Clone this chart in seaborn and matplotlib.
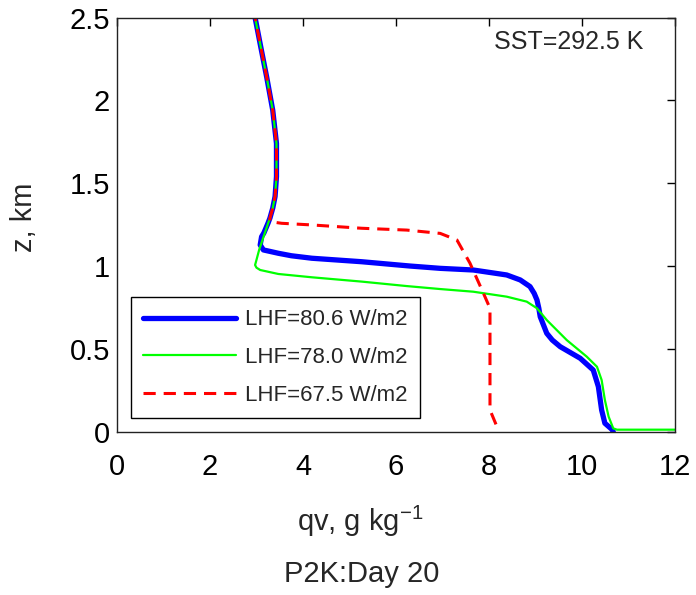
import numpy as np
import pandas as pd
import matplotlib
matplotlib.use("Agg")
import matplotlib.pyplot as plt
import seaborn as sns

# Shared upper-profile values (z in km, qv in g/kg)
z_upper = [2.55, 2.5, 2.34, 2.14, 1.94, 1.74, 1.54, 1.42, 1.35, 1.29]
q_upper = [2.93, 2.97, 3.08, 3.22, 3.35, 3.43, 3.43, 3.40, 3.35, 3.29]

z_blue = z_upper + [1.26, 1.2, 1.177, 1.127, 1.097, 1.077, 1.062, 1.047, 1.026, 1.0,
                    0.986, 0.976, 0.946, 0.916, 0.876, 0.835, 0.795, 0.745, 0.694,
                    0.594, 0.553, 0.513, 0.443, 0.372, 0.272, 0.131, 0.051, 0.014, 0.0]
q_blue = q_upper + [3.25, 3.16, 3.11, 3.08, 3.15, 3.47, 3.75, 4.19, 5.26, 6.3,
                    6.95, 7.66, 8.38, 8.67, 8.88, 8.97, 9.03, 9.07, 9.10,
                    9.24, 9.36, 9.53, 9.96, 10.24, 10.35, 10.42, 10.49, 10.64, 10.67]

z_green = z_upper + [1.258, 1.2, 1.1, 1.037, 1.006, 0.99, 0.976, 0.952, 0.932, 0.906,
                     0.879, 0.861, 0.845, 0.815, 0.785, 0.745, 0.674, 0.553, 0.453,
                     0.392, 0.312, 0.191, 0.091, 0.02, 0.012, 0.012]
q_green = q_upper + [3.25, 3.18, 3.06, 3.00, 2.97, 3.0, 3.08, 3.47, 4.19, 5.26,
                     6.23, 6.95, 7.66, 8.38, 8.81, 9.03, 9.24, 9.67, 10.10,
                     10.32, 10.42, 10.49, 10.57, 10.67, 10.75, 12.5]

z_red = z_upper + [1.268, 1.258, 1.248, 1.228, 1.217, 1.197, 1.157, 1.017, 0.835,
                   0.745, 0.734, 0.131, 0.03, 0.0]
q_red = q_upper + [3.29, 3.54, 4.19, 5.26, 6.23, 6.95, 7.31, 7.59, 7.88,
                   8.02, 8.02, 8.02, 8.17, 8.20]

labels = ["LHF=80.6 W/m2", "LHF=78.0 W/m2", "LHF=67.5 W/m2"]
x_ticks = [0, 2, 4, 6, 8, 10, 12]
y_ticks = [0, 0.5, 1, 1.5, 2, 2.5]
y_ticklabels = ["0", "0.5", "1", "1.5", "2", "2.5"]

sns.set_style("white")
plt.rcParams['font.family'] = ['Liberation Sans', 'DejaVu Sans']
plt.rcParams['mathtext.fontset'] = 'custom'
plt.rcParams['mathtext.rm'] = 'Liberation Sans'
plt.rcParams['mathtext.default'] = 'regular'

fig = plt.figure(figsize=(6.96, 5.95), dpi=100)
ax = fig.add_axes([0.168, 0.2745, 0.802, 0.696])

d_blue = pd.DataFrame({"qv": q_blue, "z": z_blue})
d_green = pd.DataFrame({"qv": q_green, "z": z_green})
d_red = pd.DataFrame({"qv": q_red, "z": z_red})

sns.lineplot(data=d_blue, x="qv", y="z", sort=False, estimator=None, ax=ax,
             color=(0, 0, 1), linewidth=3.8, label=labels[0])
sns.lineplot(data=d_green, x="qv", y="z", sort=False, estimator=None, ax=ax,
             color=(0, 1, 0), linewidth=1.6, label=labels[1])
sns.lineplot(data=d_red, x="qv", y="z", sort=False, estimator=None, ax=ax,
             color=(1, 0, 0), linewidth=2.2, linestyle=(0, (4, 2.6)), label=labels[2])

ax.set_xlim(0, 12)
ax.set_ylim(0, 2.5)
ax.set_xticks(x_ticks)
ax.set_yticks(y_ticks)
ax.set_xticklabels([str(t) for t in x_ticks])
ax.set_yticklabels(y_ticklabels)
ax.tick_params(direction='in', length=6, width=1, top=True, right=True,
               labelsize=21, colors='black')
ax.tick_params(axis='x', pad=15)
ax.tick_params(axis='y', pad=5)
for s in ax.spines.values():
    s.set_visible(True)
    s.set_color('#222222')
    s.set_linewidth(1.0)

ax.set_xlabel("qv, g kg$^{-1}$", fontsize=21)
ax.xaxis.set_label_coords(0.435, -0.175)
ax.set_ylabel("z, km", fontsize=21)
ax.yaxis.set_label_coords(-0.142, 0.518)
fig.text(0.52, 1 - 574 / 595, "P2K:Day 20", fontsize=21, ha='center', va='center')
ax.text(0.81, 0.941, "SST=292.5 K", transform=ax.transAxes, fontsize=18,
        ha='center', va='center')

leg = ax.legend(loc='lower left', bbox_to_anchor=(0.025, 0.033), borderaxespad=0,
                fontsize=16, handlelength=4.2, handletextpad=0.4, labelspacing=0.75,
                frameon=True, fancybox=False, framealpha=1, edgecolor='black',
                borderpad=0.55)
leg.get_frame().set_linewidth(1.0)

fig.savefig("out.png", dpi=100)
